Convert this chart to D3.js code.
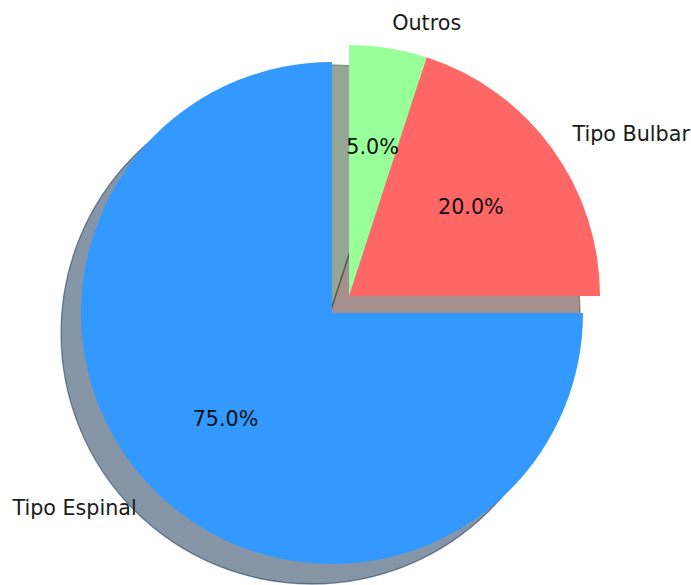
<!DOCTYPE html>
<html>
<head>
<meta charset="utf-8">
<script src="https://cdn.jsdelivr.net/npm/d3@7"></script>
<style>
  html, body { margin: 0; padding: 0; background: #fff; }
  svg text { font-family: "DejaVu Sans", sans-serif; }
</style>
</head>
<body>
<svg id="chart" width="691" height="585"></svg>
<script>
// Slice data
const categories = ["Tipo Espinal", "Tipo Bulbar", "Outros"];
const values = [75, 20, 5];
const colors = ["#3399ff", "#ff6666", "#99ff99"];
const explode = [0, 0.096, 0.096];   // fraction of radius

const W = 691, H = 585;
const cx = 332, cy = 313, R = 251;
const fontSize = 20.7;
const shadowOffset = [-20, 20];

const svg = d3.select("#chart");
const g = svg.append("g").attr("transform", `translate(${cx},${cy})`);

const data = categories.map((c, i) => ({ name: c, value: values[i], color: colors[i], explode: explode[i] }));

// start at 12 o'clock, run counter-clockwise
const pie = d3.pie().value(d => d.value).sort(null).startAngle(0).endAngle(-2 * Math.PI);
const arcs = pie(data);
const arc = d3.arc().innerRadius(0).outerRadius(R);

// exploded slices move together, along the middle of their combined span
const exp = arcs.filter(a => a.data.explode > 0);
let groupMid = 0;
if (exp.length) {
  const lo = d3.min(exp, a => Math.min(a.startAngle, a.endAngle));
  const hi = d3.max(exp, a => Math.max(a.startAngle, a.endAngle));
  groupMid = (lo + hi) / 2;
}
arcs.forEach(a => {
  const d = a.data.explode * R;
  a.dx = d * Math.sin(groupMid);
  a.dy = -d * Math.cos(groupMid);
  a.mid = (a.startAngle + a.endAngle) / 2;
});

function darker(c) {
  const col = d3.rgb(c);
  return d3.rgb(col.r * 0.3, col.g * 0.3, col.b * 0.3).toString();
}

// shadows first (translucent fill plus translucent rim)
g.selectAll("path.shadow").data(arcs).join("path")
  .attr("class", "shadow")
  .attr("d", arc)
  .attr("transform", a => `translate(${a.dx + shadowOffset[0]},${a.dy + shadowOffset[1]})`)
  .attr("fill", a => darker(a.data.color))
  .attr("fill-opacity", 0.5)
  .attr("stroke", a => darker(a.data.color))
  .attr("stroke-opacity", 0.5)
  .attr("stroke-width", 1.3)
  .attr("stroke-linejoin", "round");

// wedges
g.selectAll("path.wedge").data(arcs).join("path")
  .attr("class", "wedge")
  .attr("d", arc)
  .attr("transform", a => `translate(${a.dx},${a.dy})`)
  .attr("fill", a => a.data.color);

// category labels at 1.1 R
g.selectAll("text.label").data(arcs).join("text")
  .attr("class", "label")
  .attr("x", a => a.dx + 1.1 * R * Math.sin(a.mid))
  .attr("y", a => a.dy - 1.1 * R * Math.cos(a.mid))
  .attr("text-anchor", a => Math.sin(a.mid) < 0 ? "end" : "start")
  .attr("dominant-baseline", "central")
  .attr("font-size", fontSize)
  .attr("fill", "#1a1a1a")
  .text(a => a.data.name);

// percentage labels at 0.6 R
const total = d3.sum(values);
g.selectAll("text.pct").data(arcs).join("text")
  .attr("class", "pct")
  .attr("x", a => a.dx + 0.6 * R * Math.sin(a.mid))
  .attr("y", a => a.dy - 0.6 * R * Math.cos(a.mid))
  .attr("text-anchor", "middle")
  .attr("dominant-baseline", "central")
  .attr("font-size", fontSize)
  .attr("fill", "#111")
  .text(a => (a.data.value / total * 100).toFixed(1) + "%");
</script>
</body>
</html>
